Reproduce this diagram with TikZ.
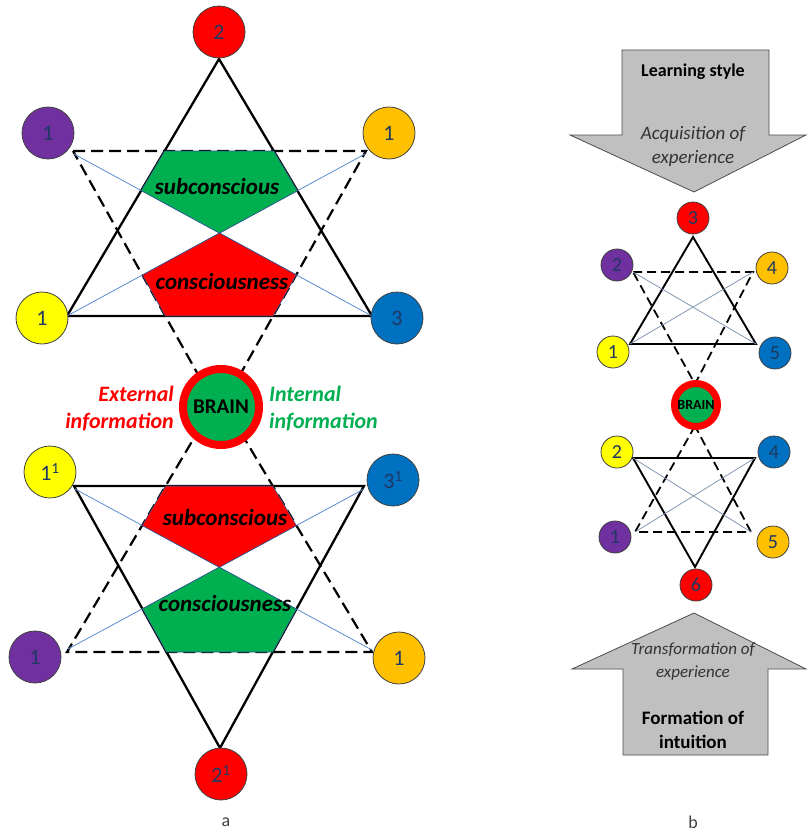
\documentclass[tikz,border=0pt]{standalone}
\usepackage{fontspec}
\setmainfont{Carlito}
\usetikzlibrary{calc}

\definecolor{cred}{RGB}{255,0,0}
\definecolor{cgreen}{RGB}{0,176,80}
\definecolor{cpurple}{RGB}{112,48,160}
\definecolor{cgold}{RGB}{255,192,0}
\definecolor{cyellow}{RGB}{255,255,0}
\definecolor{cblue}{RGB}{0,112,192}
\definecolor{navy}{RGB}{31,56,100}
\definecolor{lineblue}{RGB}{91,139,208}
\definecolor{linegray}{RGB}{132,151,176}
\definecolor{pentedge}{RGB}{47,82,143}
\definecolor{arrowgray}{RGB}{192,192,192}

\tikzset{
  ball/.style={circle, draw=black!75, line width=0.8pt, minimum size=52pt, inner sep=0pt,
    text=navy, font=\fontsize{22}{22}\selectfont},
  smallball/.style={ball, minimum size=32pt, font=\fontsize{20}{20}\selectfont},
  solidline/.style={line width=2.3pt},
  dashline/.style={line width=2.2pt, dash pattern=on 12pt off 6pt},
  thinline/.style={draw=lineblue, line width=0.8pt},
  pent/.style={draw=pentedge, line width=0.6pt},
  pentlabel/.style={font=\fontsize{23}{23}\selectfont\bfseries\itshape},
  brain/.style={circle, fill=cgreen, draw=cred, line width=8pt, minimum size=76pt, inner sep=0pt,
    font=\fontsize{21}{21}\selectfont\bfseries},
  bigarrow/.style={fill=arrowgray, draw=black!70, line width=0.8pt},
  arrowtext/.style={align=center, text=black!80, font=\fontsize{17}{23}\selectfont},
}

\begin{document}
\begin{tikzpicture}[x=1pt,y=-1pt]
\useasboundingbox (0,0) rectangle (808,832);

% ---- a: upper star
\coordinate (sT) at (219,59);
\coordinate (sL) at (67,316);
\coordinate (sR) at (372,316);
\coordinate (dL) at (73,151);
\coordinate (dR) at (366,151);
\coordinate (dB) at (219,412);
\coordinate (bL) at (74,154);
\coordinate (bR) at (365,154);
\draw[dashline] (dL) -- (dR) -- (dB) -- cycle;
\draw[solidline] (sT) -- (sL) -- (sR) -- cycle;
\draw[thinline] (bL) -- (sR) (sL) -- (bR);
\filldraw[fill=cgreen, pent] (intersection of dL--dR and sT--sL) -- (intersection of dL--dR and sT--sR)
  -- (intersection of sL--bR and sT--sR) -- (intersection of bL--sR and sL--bR)
  -- (intersection of bL--sR and sT--sL) -- cycle;
\filldraw[fill=cred, pent] (intersection of bL--sR and sL--bR) -- (intersection of bL--sR and dR--dB)
  -- (intersection of dR--dB and sL--sR) -- (intersection of dL--dB and sL--sR)
  -- (intersection of sL--bR and dL--dB) -- cycle;
\node[pentlabel] (subU) at (217,187) {subconscious};
\node[pentlabel] (conU) at (222,282) {consciousness};

% ---- a: lower star
\coordinate (tL) at (74,486);
\coordinate (tR) at (364,486);
\coordinate (tB) at (220,748);
\coordinate (eL) at (67,652);
\coordinate (eR) at (372,652);
\coordinate (eT) at (219,396);
\coordinate (aL) at (75,489);
\coordinate (aR) at (372,650);
\coordinate (cL) at (68,649);
\coordinate (cR) at (364,489);
\draw[dashline] (eT) -- (eL) -- (eR) -- cycle;
\draw[solidline] (tL) -- (tR) -- (tB) -- cycle;
\draw[thinline] (aL) -- (aR) (cL) -- (cR);
\filldraw[fill=cred, pent] (intersection of tL--tR and eT--eL) -- (intersection of tL--tR and eT--eR)
  -- (intersection of eT--eR and cL--cR) -- (intersection of aL--aR and cL--cR)
  -- (intersection of eT--eL and aL--aR) -- cycle;
\filldraw[fill=cgreen, pent] (intersection of aL--aR and cL--cR) -- (intersection of aL--aR and tR--tB)
  -- (intersection of tR--tB and eL--eR) -- (intersection of tL--tB and eL--eR)
  -- (intersection of cL--cR and tL--tB) -- cycle;
\node[pentlabel] (subL) at (225,518) {subconscious};
\node[pentlabel] (conL) at (225,604) {consciousness};

% circles of a
\node[ball, fill=cred] (u2) at (219,32) {2};
\node[ball, fill=cpurple] (u1p) at (48,133) {1};
\node[ball, fill=cgold] (u1o) at (389,133) {1};
\node[ball, fill=cyellow] (u1y) at (42,318) {1};
\node[ball, fill=cblue] (u3) at (397,318) {3};
\node[ball, fill=cyellow] (l1y) at (50,472) {1\textsuperscript{1}};
\node[ball, fill=cblue] (l3) at (393,480) {3\textsuperscript{1}};
\node[ball, fill=cpurple] (l1p) at (35,657) {1};
\node[ball, fill=cgold] (l1o) at (399,658) {1};
\node[ball, fill=cred] (l2) at (221,774) {2\textsuperscript{1}};

% brain of a
\node[brain] (brainA) at (221,407) {BRAIN};
\node[anchor=east, align=right, inner sep=0pt, text=cred, font=\fontsize{22}{27}\selectfont\bfseries\itshape]
  (extern) at (174,409) {External\\information};
\node[anchor=west, align=left, inner sep=0pt, text=cgreen, font=\fontsize{22}{27}\selectfont\bfseries\itshape]
  (intern) at (269,409) {Internal\\information};
\node[text=black!75, font=\fontsize{18}{18}\selectfont] (capA) at (226,822) {a};

% ---- b: arrows
\draw[bigarrow] (622,50) -- (769,50) -- (769,135) -- (806,135) -- (694,192) -- (570,135) -- (622,135) -- cycle;
\draw[bigarrow] (623,755) -- (768,755) -- (768,669) -- (806,669) -- (694,613) -- (572,669) -- (623,669) -- cycle;
\node[arrowtext, text=black, font=\fontsize{18}{23}\selectfont\bfseries] (learn) at (693,72) {Learning style};
\node[arrowtext, font=\fontsize{19}{24}\selectfont\itshape] (acq) at (693,146) {Acquisition of\\experience};
\node[arrowtext, font=\fontsize{17}{23}\selectfont\itshape] (trans) at (693,661) {Transformation of\\experience};
\node[arrowtext, text=black, font=\fontsize{19}{24}\selectfont\bfseries] (form) at (693,730) {Formation of\\intuition};

% ---- b: upper star
\coordinate (rT) at (693,237);
\coordinate (rL) at (630,344);
\coordinate (rR) at (756,344);
\coordinate (rdL) at (633,272);
\coordinate (rdR) at (753,272);
\coordinate (rdB) at (695,384);
\draw[dashline, line width=1.8pt, dash pattern=on 9pt off 5pt] (rdL) -- (rdR) -- (rdB) -- cycle;
\draw[solidline, line width=1.9pt] (rT) -- (rL) -- (rR) -- cycle;
\draw[thinline, draw=linegray] (rdL) -- (rR) (rL) -- (rdR);

% ---- b: lower star
\coordinate (qL) at (633,458);
\coordinate (qR) at (755,458);
\coordinate (qB) at (695,567);
\coordinate (qdT) at (695,426);
\coordinate (qdL) at (635,532);
\coordinate (qdR) at (751,532);
\draw[dashline, line width=1.8pt, dash pattern=on 9pt off 5pt] (qdT) -- (qdL) -- (qdR) -- cycle;
\draw[solidline, line width=1.9pt] (qL) -- (qR) -- (qB) -- cycle;
\draw[thinline, draw=linegray] (qL) -- (qdR) (qR) -- (qdL);

% circles of b
\node[smallball, fill=cred] (r3) at (693,218) {3};
\node[smallball, fill=cpurple] (r2) at (617,265) {2};
\node[smallball, fill=cgold] (r4) at (772,268) {4};
\node[smallball, fill=cyellow] (r1) at (613,352) {1};
\node[smallball, fill=cblue] (r5) at (775,353) {5};
\node[smallball, fill=cyellow] (q2) at (617,452) {2};
\node[smallball, fill=cblue] (q4) at (774,452) {4};
\node[smallball, fill=cpurple] (q1) at (615,537) {1};
\node[smallball, fill=cgold] (q5) at (773,542) {5};
\node[smallball, fill=cred] (q6) at (696,585) {6};
\node[brain, line width=7pt, minimum size=43pt, font=\fontsize{14}{14}\selectfont\bfseries] (brainB) at (696,405) {BRAIN};
\node[text=black!75, font=\fontsize{18}{18}\selectfont] (capB) at (693,822) {b};

\end{tikzpicture}
\end{document}
